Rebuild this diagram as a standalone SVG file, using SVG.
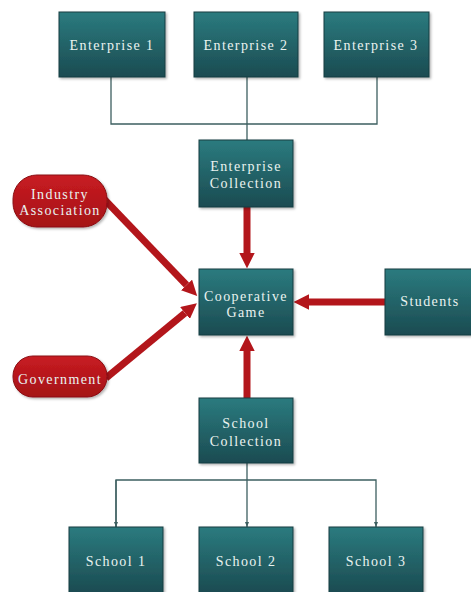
<svg xmlns="http://www.w3.org/2000/svg" width="471" height="592" viewBox="0 0 471 592">
<style>
.box{fill:url(#teal);stroke:#163c40;stroke-width:1;filter:url(#sh)}
.pill{fill:url(#red);stroke:#8a0f12;stroke-width:1;filter:url(#sh)}
.t{font-family:"Liberation Serif",serif;font-size:14px;fill:#eaf3f0;text-anchor:middle;letter-spacing:1.4px}
.thin{fill:none;stroke:#3d5f60;stroke-width:1.3}
.red{fill:none;stroke:#b3161b;stroke-width:7;marker-end:url(#ah)}
</style>
<defs>
<linearGradient id="teal" x1="0" y1="0" x2="0" y2="1">
<stop offset="0" stop-color="#2b7b7f"/>
<stop offset="1" stop-color="#1b4b51"/>
</linearGradient>
<linearGradient id="red" x1="0" y1="0" x2="0" y2="1">
<stop offset="0" stop-color="#c81c22"/>
<stop offset="1" stop-color="#a51217"/>
</linearGradient>
<filter id="sh" x="-10%" y="-10%" width="130%" height="130%">
<feDropShadow dx="1.5" dy="1.5" stdDeviation="1.2" flood-color="#000" flood-opacity="0.3"/>
</filter>
<marker id="ah" viewBox="0 0 10 10" markerWidth="2.2" markerHeight="2.2" refX="0" refY="5" orient="auto" markerUnits="strokeWidth">
<path d="M0,0 L10,5 L0,10 z" fill="#b3161b"/>
</marker>
<marker id="sa" viewBox="0 0 10 10" markerWidth="5" markerHeight="5" refX="10" refY="5" orient="auto" markerUnits="userSpaceOnUse">
<path d="M0,1 L10,5 L0,9 z" fill="#3d5f60"/>
</marker>
</defs>
<g id="connectors">
<path class="thin" d="M111,77 V124 H377 V77"/>
<path class="thin" d="M247,77 V140"/>
<path class="thin" d="M247,463 V527" marker-end="url(#sa)"/>
<path class="thin" d="M116,527 V480 H376 V527" marker-end="url(#sa)"/>
<path class="thin" d="M116,480 V527" marker-end="url(#sa)"/>
<path class="red" d="M247,207 L247,253"/>
<path class="red" d="M104,199 L186.5,285"/>
<path class="red" d="M106,378 L185,313"/>
<path class="red" d="M386,302 L309,302"/>
<path class="red" d="M247,398 L247,351"/>
</g>
<g id="enterprise1"><rect class="box" x="59" y="12" width="106" height="65"/><text class="t" x="112" y="50">Enterprise 1</text></g>
<g id="enterprise2"><rect class="box" x="194" y="12" width="104" height="65"/><text class="t" x="246" y="50">Enterprise 2</text></g>
<g id="enterprise3"><rect class="box" x="324" y="12" width="105" height="65"/><text class="t" x="376" y="50">Enterprise 3</text></g>
<g id="enterpriseCollection"><rect class="box" x="199" y="140" width="94" height="67"/><text class="t" x="246" y="171">Enterprise</text><text class="t" x="246" y="188">Collection</text></g>
<g id="industryAssociation"><rect class="pill" x="13" y="175" width="94" height="52" rx="24"/><text class="t" x="60" y="199">Industry</text><text class="t" x="60" y="215">Association</text></g>
<g id="cooperativeGame"><rect class="box" x="199" y="269" width="94" height="66"/><text class="t" x="246" y="301">Cooperative</text><text class="t" x="246" y="317">Game</text></g>
<g id="students"><rect class="box" x="385" y="269" width="88" height="66"/><text class="t" x="430" y="306">Students</text></g>
<g id="government"><rect class="pill" x="13" y="356" width="94" height="41" rx="20"/><text class="t" x="60" y="384">Government</text></g>
<g id="schoolCollection"><rect class="box" x="199" y="398" width="94" height="65"/><text class="t" x="246" y="428">School</text><text class="t" x="246" y="446">Collection</text></g>
<g id="school1"><rect class="box" x="69" y="527" width="94" height="66"/><text class="t" x="116" y="566">School 1</text></g>
<g id="school2"><rect class="box" x="199" y="527" width="94" height="66"/><text class="t" x="246" y="566">School 2</text></g>
<g id="school3"><rect class="box" x="329" y="527" width="94" height="66"/><text class="t" x="376" y="566">School 3</text></g>
</svg>
